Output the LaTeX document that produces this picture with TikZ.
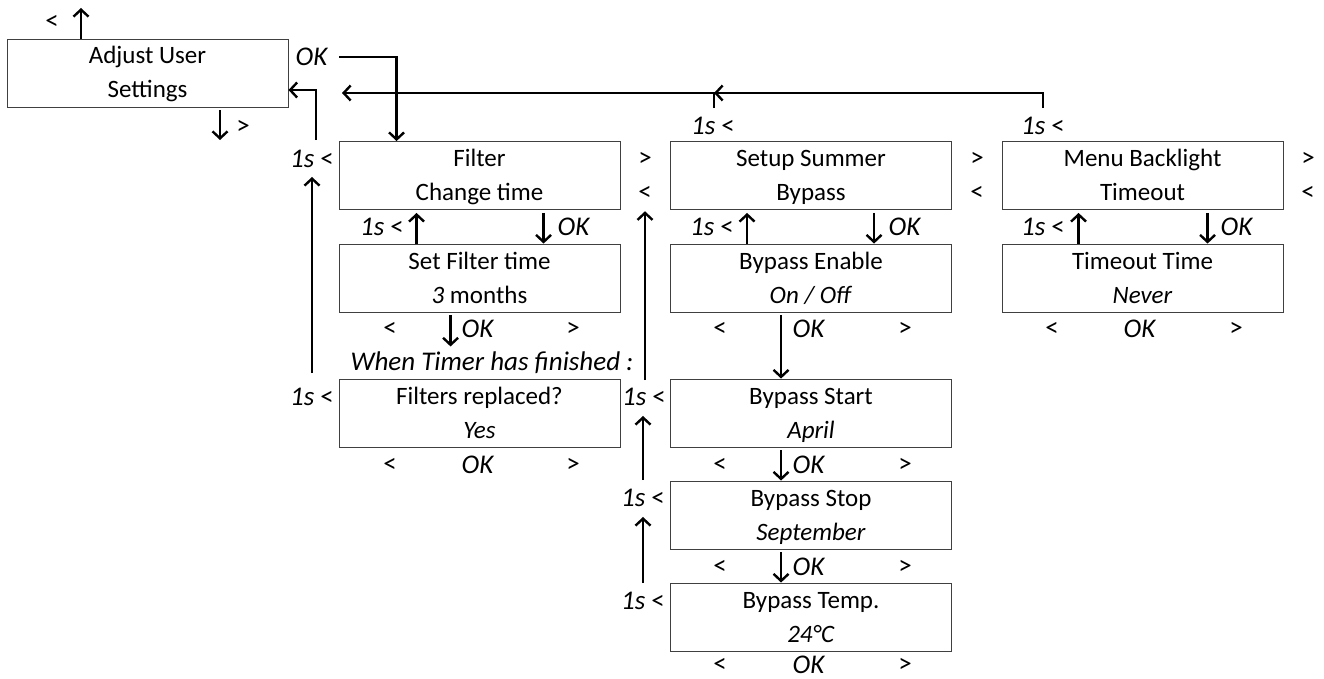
\documentclass[tikz,border=0pt]{standalone}
\usepackage{fontspec}
\setmainfont{Carlito}
\usetikzlibrary{positioning, arrows.meta}
\newcommand{\screen}[2]{\rule[-9pt]{0pt}{34pt}#1\\\rule[-9pt]{0pt}{34pt}#2}
\tikzset{
    menubox/.style={draw=black!75, line width=0.9pt, minimum width=281pt, minimum height=68pt,
        inner sep=0pt, align=center, font=\fontsize{25}{34}\selectfont},
    key/.style={inner sep=0pt, font=\fontsize{27}{30}\selectfont},
    flow/.style={line width=2.4pt, -{Straight Barb[length=7pt,width=15pt]}},
}

\begin{document}
\begin{tikzpicture}[x=1pt, y=-1pt]
            \useasboundingbox (0,0) rectangle (1324,679);

            % menu screens
            \node[menubox] (adjust) at (147.5,73) {\screen{Adjust User}{Settings}};
            \node[menubox] (filter) at (479.5,175.5) {\screen{Filter}{Change time}};
            \node[menubox] (settime) at (479.5,278) {\screen{Set Filter time}{\textit{3} months}};
            \node[menubox] (replaced) at (479.5,413) {\screen{Filters replaced?}{\textit{Yes}}};
            \node[menubox] (summer) at (811,175.5) {\screen{Setup Summer}{Bypass}};
            \node[menubox] (enable) at (811,278) {\screen{Bypass Enable}{\textit{On / Off}}};
            \node[menubox] (start) at (811,413) {\screen{Bypass Start}{\textit{April}}};
            \node[menubox] (stop) at (811,515) {\screen{Bypass Stop}{\textit{September}}};
            \node[menubox] (temp) at (811,617) {\screen{Bypass Temp.}{\textit{24°C}}};
            \node[menubox] (backlight) at (1142.5,175.5) {\screen{Menu Backlight}{Timeout}};
            \node[menubox] (timeout) at (1142.5,278) {\screen{Timeout Time}{\textit{Never}}};

            % key labels
            \node[key] (adjprev) at (52,22) {<};
            \node[key] (adjnext) at (243,127) {>};
            \node[key] (adjok) at (312,57) {\textit{OK}};
            \node[key] (sumhold) at (713,126) {\textit{1s} <};
            \node[key] (blhold) at (1043,126) {\textit{1s} <};
            \node[key] (filhold) at (312,159) {\textit{1s} <};
            \node[key] (rephold) at (312,397) {\textit{1s} <};
            \node[key] (starthold) at (644,397) {\textit{1s} <};
            \node[key] (stophold) at (643,498) {\textit{1s} <};
            \node[key] (temphold) at (643,601) {\textit{1s} <};
            \node[key] (filnext) at (645,159) {>};
            \node[key] (filprev) at (645,193) {<};
            \node[key] (sumnext) at (977,159) {>};
            \node[key] (sumprev) at (977,193) {<};
            \node[key] (blnext) at (1308,159) {>};
            \node[key] (blprev) at (1308,193) {<};
            \node[key] (filback) at (382,227) {\textit{1s} <};
            \node[key] (filok) at (574,227) {\textit{OK}};
            \node[key] (sumback) at (712,227) {\textit{1s} <};
            \node[key] (sumok) at (905,227) {\textit{OK}};
            \node[key] (blback) at (1043,227) {\textit{1s} <};
            \node[key] (blok) at (1237,227) {\textit{OK}};
            \node[key] (timer) at (492,363) {\textit{When Timer has finished :}};

            % rows of < OK > under the screens
            \foreach \name/\x/\y in {settime/390/329, replaced/390/465, enable/720/329, start/720/465,
                                     stop/720/567, temp/720/665, timeout/1052/329} {
                \node[key] (\name prev) at (\x,\y) {<};
            }
            \foreach \name/\x/\y in {settime/478/329, replaced/478/465, enable/809/329, start/809/465,
                                     stop/809/567, temp/809/665, timeout/1140/329} {
                \node[key] (\name ok) at (\x,\y) {\textit{OK}};
            }
            \foreach \name/\x/\y in {settime/573/329, replaced/573/465, enable/905/329, start/905/465,
                                     stop/905/567, temp/905/665, timeout/1236/329} {
                \node[key] (\name next) at (\x,\y) {>};
            }

            % free ends
            \coordinate (up) at (81,8);
            \coordinate (down) at (220,140);
            \coordinate (home) at (342,93);
            \coordinate (join) at (714,93);

            \draw[flow] (adjust.north -| up) -- (up);
            \draw[flow] ([yshift=-3pt]adjust.south -| down) -- (down);
            \draw[flow] ([xshift=11pt]adjok.east) -| ([xshift=58pt]filter.north west);
            \draw[flow] ([xshift=4pt,yshift=10pt]filhold.north) |- ([yshift=-17pt]adjust.east);
            \draw[flow] ([yshift=9pt]blhold.north) |- (join);
            \draw[flow] ([xshift=1pt,yshift=9pt]sumhold.north) |- (home);

            \draw[flow] ([yshift=15pt]rephold.north) -- ([yshift=-9pt]filhold.south);
            \draw[flow] (645,380) -- ([yshift=-11pt]filprev.south);
            \draw[flow] ([yshift=9pt]stophold.north) -- ([yshift=-10pt]starthold.south -| stophold.north);
            \draw[flow] ([yshift=9pt]temphold.north) -- ([yshift=-10pt]stophold.south);

            \draw[flow] ([xshift=78pt]settime.north west) -- ([xshift=78pt,yshift=-3pt]filter.south west);
            \draw[flow] ([xshift=205pt,yshift=-3pt]filter.south west) -- ([xshift=205pt]settime.north west);
            \draw[flow] ([xshift=112pt,yshift=-3pt]settime.south west) -- ([xshift=112pt,yshift=-34pt]settime.south west);

            \draw[flow] ([xshift=77pt]enable.north west) -- ([xshift=77pt,yshift=-3pt]summer.south west);
            \draw[flow] ([xshift=204pt,yshift=-3pt]summer.south west) -- ([xshift=204pt]enable.north west);
            \draw[flow] ([xshift=111pt,yshift=-3pt]enable.south west) -- ([xshift=111pt]start.north west);
            \draw[flow] ([xshift=111pt,yshift=-3pt]start.south west) -- ([xshift=111pt]stop.north west);
            \draw[flow] ([xshift=111pt,yshift=-3pt]stop.south west) -- ([xshift=111pt]temp.north west);

            \draw[flow] ([xshift=77pt]timeout.north west) -- ([xshift=77pt,yshift=-3pt]backlight.south west);
            \draw[flow] ([xshift=206pt,yshift=-3pt]backlight.south west) -- ([xshift=206pt]timeout.north west);
        \end{tikzpicture}
\end{document}
